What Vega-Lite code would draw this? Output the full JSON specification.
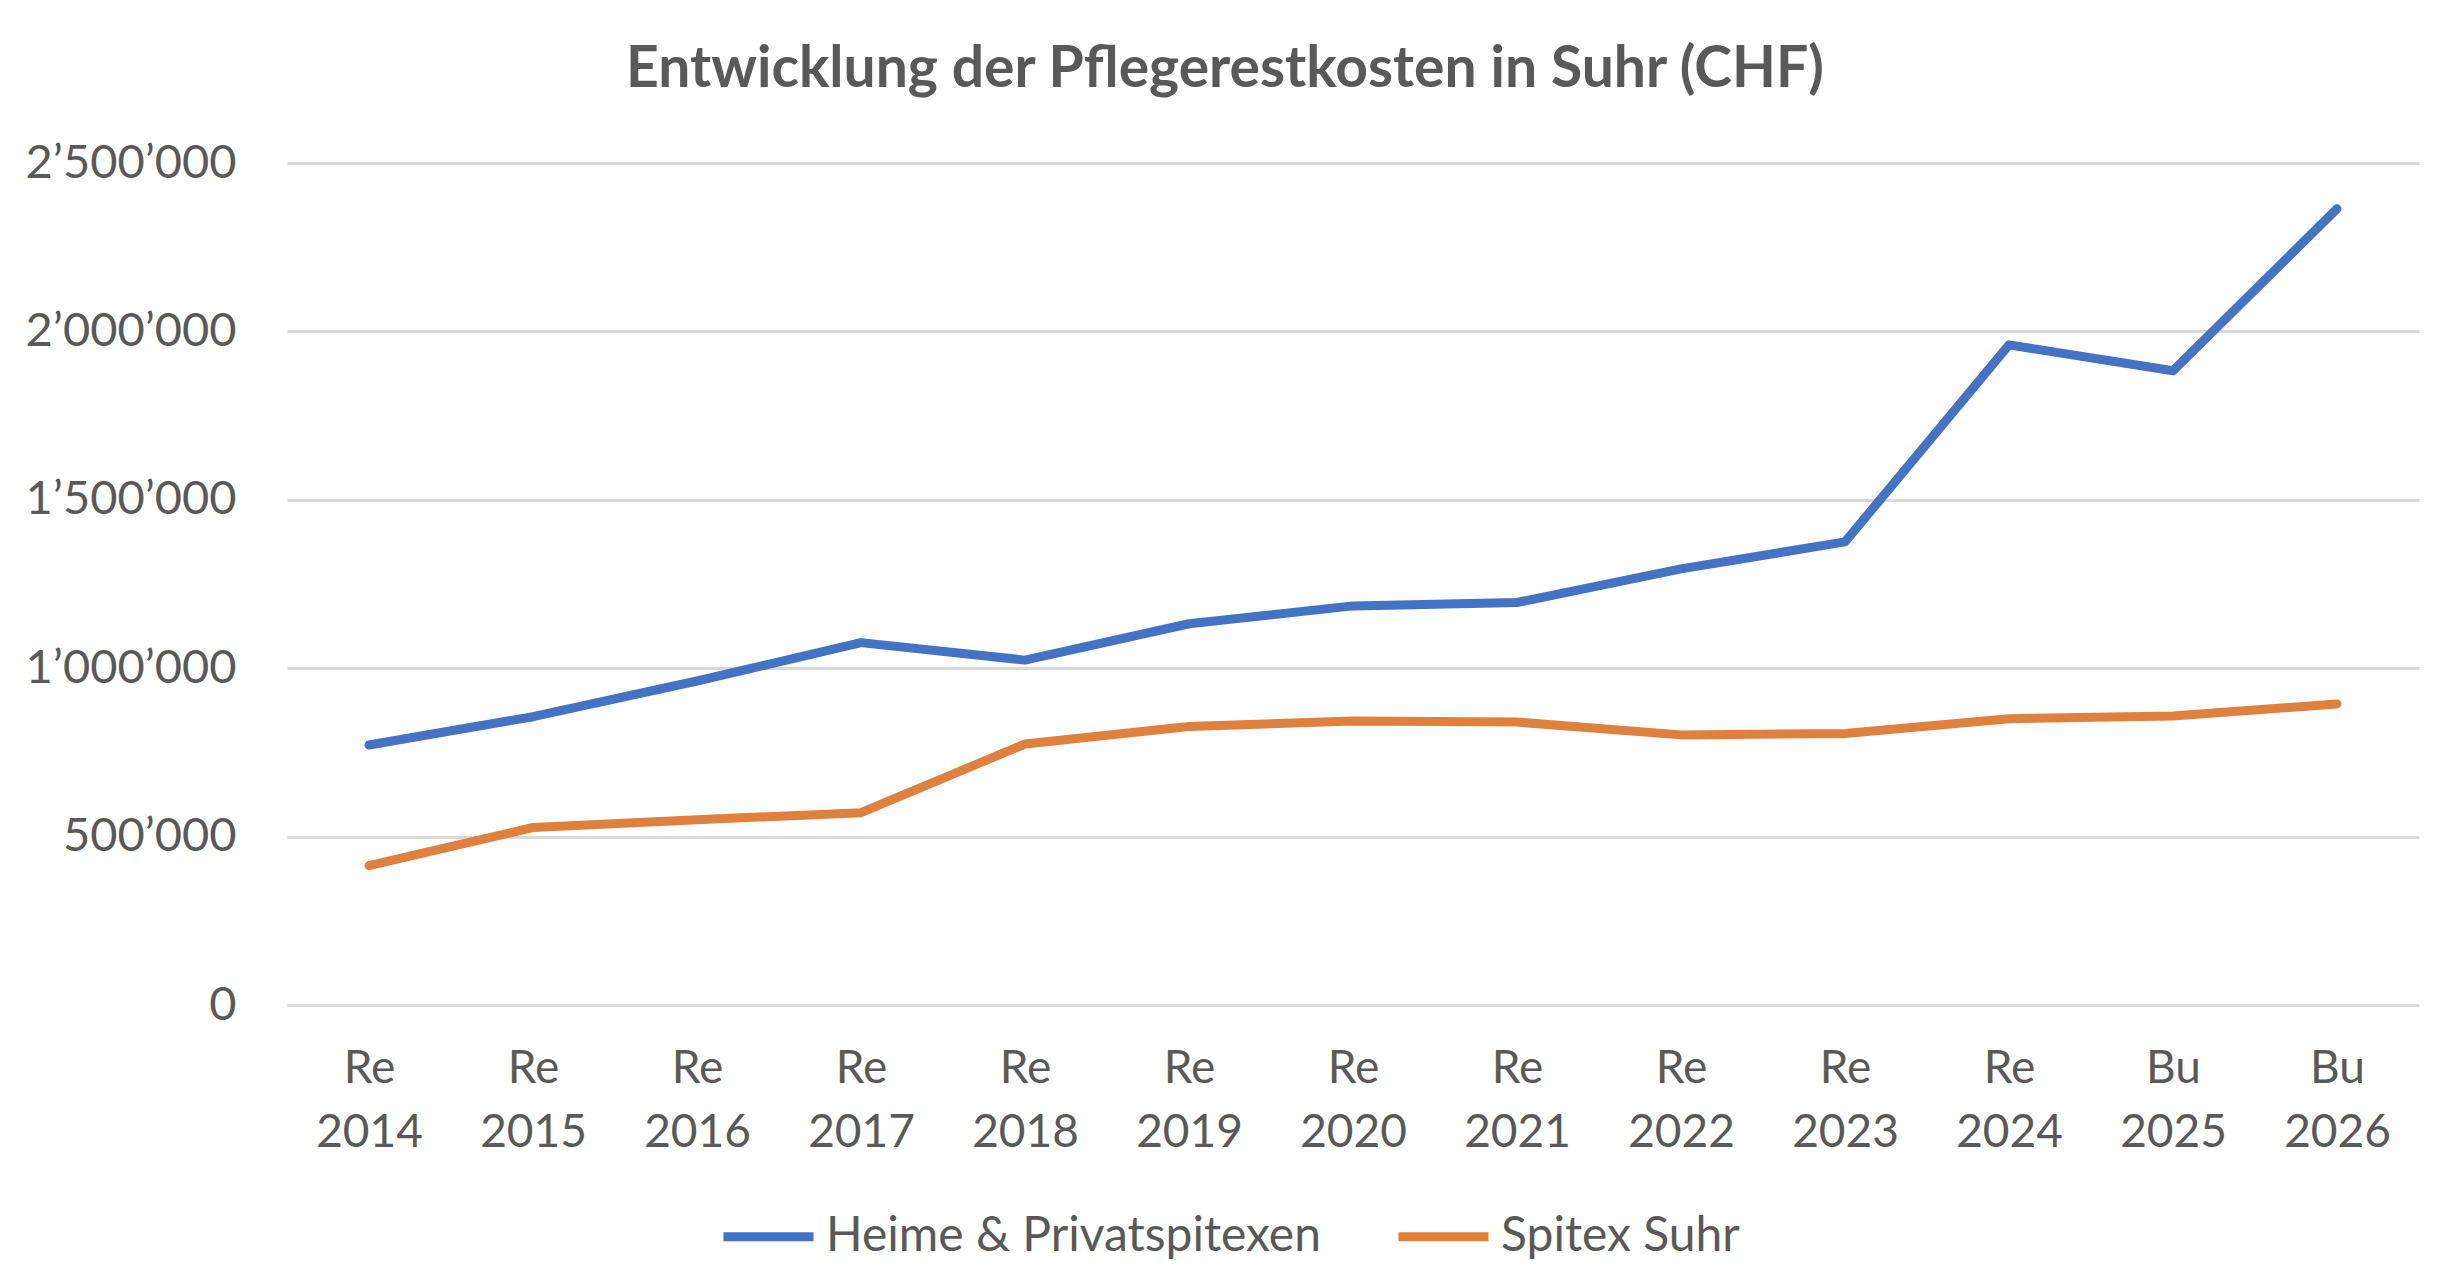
{
  "$schema": "https://vega.github.io/schema/vega-lite/v6.json",
  "description": "Entwicklung der Pflegerestkosten in Suhr (CHF)",
  "autosize": {"type": "none"},
  "width": 2132,
  "height": 842,
  "padding": {"left": 287, "top": 163, "right": 31, "bottom": 269},
  "background": "white",
  "title": {
    "text": "Entwicklung der Pflegerestkosten in Suhr (CHF)",
    "font": "Lato",
    "fontSize": 57,
    "fontWeight": "bold",
    "color": "#595959",
    "anchor": "middle",
    "baseline": "alphabetic",
    "dx": -128,
    "offset": -5
  },
  "config": {
    "view": {"stroke": null},
    "font": "Lato"
  },
  "data": {
    "values": [
      {"jahr": "Re 2014", "serie": "Heime & Privatspitexen", "wert": 772000},
      {"jahr": "Re 2015", "serie": "Heime & Privatspitexen", "wert": 856000},
      {"jahr": "Re 2016", "serie": "Heime & Privatspitexen", "wert": 962000},
      {"jahr": "Re 2017", "serie": "Heime & Privatspitexen", "wert": 1076000},
      {"jahr": "Re 2018", "serie": "Heime & Privatspitexen", "wert": 1024000},
      {"jahr": "Re 2019", "serie": "Heime & Privatspitexen", "wert": 1132000},
      {"jahr": "Re 2020", "serie": "Heime & Privatspitexen", "wert": 1185000},
      {"jahr": "Re 2021", "serie": "Heime & Privatspitexen", "wert": 1195000},
      {"jahr": "Re 2022", "serie": "Heime & Privatspitexen", "wert": 1295000},
      {"jahr": "Re 2023", "serie": "Heime & Privatspitexen", "wert": 1375000},
      {"jahr": "Re 2024", "serie": "Heime & Privatspitexen", "wert": 1960000},
      {"jahr": "Bu 2025", "serie": "Heime & Privatspitexen", "wert": 1883000},
      {"jahr": "Bu 2026", "serie": "Heime & Privatspitexen", "wert": 2364000},
      {"jahr": "Re 2014", "serie": "Spitex Suhr", "wert": 414000},
      {"jahr": "Re 2015", "serie": "Spitex Suhr", "wert": 527000},
      {"jahr": "Re 2016", "serie": "Spitex Suhr", "wert": 550000},
      {"jahr": "Re 2017", "serie": "Spitex Suhr", "wert": 571000},
      {"jahr": "Re 2018", "serie": "Spitex Suhr", "wert": 775000},
      {"jahr": "Re 2019", "serie": "Spitex Suhr", "wert": 827000},
      {"jahr": "Re 2020", "serie": "Spitex Suhr", "wert": 843000},
      {"jahr": "Re 2021", "serie": "Spitex Suhr", "wert": 840000},
      {"jahr": "Re 2022", "serie": "Spitex Suhr", "wert": 802000},
      {"jahr": "Re 2023", "serie": "Spitex Suhr", "wert": 806000},
      {"jahr": "Re 2024", "serie": "Spitex Suhr", "wert": 850000},
      {"jahr": "Bu 2025", "serie": "Spitex Suhr", "wert": 858000},
      {"jahr": "Bu 2026", "serie": "Spitex Suhr", "wert": 894000}
    ]
  },
  "mark": {"type": "line", "strokeWidth": 9, "strokeCap": "round", "strokeJoin": "round"},
  "encoding": {
    "x": {
      "field": "jahr",
      "type": "ordinal",
      "sort": null,
      "scale": {"padding": 0.5},
      "title": null,
      "axis": {
        "labelExpr": "split(datum.label, ' ')",
        "labelAngle": 0,
        "labelFont": "Lato",
        "labelFontSize": 46,
        "labelColor": "#595959",
        "labelLineHeight": 64,
        "labelPadding": 41,
        "domain": false,
        "ticks": false,
        "grid": false
      }
    },
    "y": {
      "field": "wert",
      "type": "quantitative",
      "title": null,
      "scale": {"domain": [0, 2500000], "nice": false},
      "axis": {
        "values": [0, 500000, 1000000, 1500000, 2000000, 2500000],
        "labelExpr": "join(split(format(datum.value, ','), ','), '’')",
        "labelFont": "Lato",
        "labelFontSize": 47,
        "labelColor": "#595959",
        "labelPadding": 51,
        "labelLimit": 400,
        "domain": false,
        "ticks": false,
        "grid": true,
        "gridColor": "#d9d9d9",
        "gridWidth": 3
      }
    },
    "color": {
      "field": "serie",
      "type": "nominal",
      "scale": {
        "domain": ["Heime & Privatspitexen", "Spitex Suhr"],
        "range": ["#4472C4", "#E0803F"]
      },
      "legend": {
        "title": null,
        "orient": "none",
        "direction": "horizontal",
        "legendX": 432,
        "legendY": 1024,
        "symbolType": "stroke",
        "symbolSize": 8100,
        "symbolStrokeWidth": 9,
        "labelFont": "Lato",
        "labelFontSize": 48,
        "labelColor": "#595959",
        "labelOffset": 8,
        "labelLimit": 800,
        "columnPadding": 59
      }
    }
  }
}
